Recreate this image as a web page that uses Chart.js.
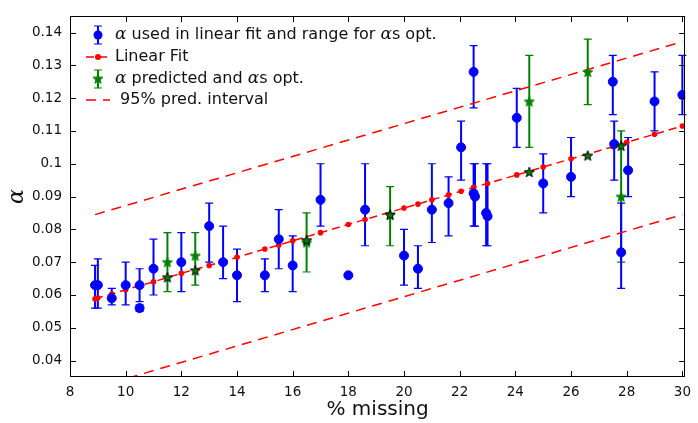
<!DOCTYPE html>
<html>
<head>
<meta charset="utf-8">
<script src="https://cdn.jsdelivr.net/npm/chart.js@4"></script>
<style>
  html, body { margin: 0; padding: 0; background: #fff; }
  #chart { display: block; }
</style>
</head>
<body>
<canvas id="chart" width="698" height="423"></canvas>
<script>
// axis ticks
const xTicks = [8, 10, 12, 14, 16, 18, 20, 22, 24, 26, 28, 30];
const yTicks = [0.04, 0.05, 0.06, 0.07, 0.08, 0.09, 0.1, 0.11, 0.12, 0.13, 0.14];

// alpha used in linear fit (blue), with error bar ends
const blueX  = [8.9, 9.0, 9.5, 10.0, 10.5, 10.5, 11.0, 12.0, 13.0, 13.5, 14.0, 15.0, 15.5, 16.0, 17.0, 18.0, 18.6, 20.0, 20.5, 21.0, 21.6, 22.05, 22.5, 22.5, 22.55, 22.95, 23.0, 24.05, 25.0, 26.0, 27.5, 27.55, 27.8, 28.05, 29.0, 30.0];
const blueY  = [0.063, 0.063, 0.059, 0.063, 0.063, 0.056, 0.068, 0.070, 0.081, 0.070, 0.066, 0.066, 0.077, 0.069, 0.089, 0.066, 0.086, 0.072, 0.068, 0.086, 0.088, 0.105, 0.128, 0.091, 0.090, 0.085, 0.084, 0.114, 0.094, 0.096, 0.125, 0.106, 0.073, 0.098, 0.119, 0.121];
const blueHi = [0.069, 0.071, 0.062, 0.070, 0.068, 0.057, 0.077, 0.079, 0.088, 0.081, 0.074, 0.071, 0.086, 0.078, 0.100, 0.0665, 0.100, 0.080, 0.075, 0.100, 0.096, 0.113, 0.136, 0.100, 0.100, 0.100, 0.100, 0.123, 0.103, 0.108, 0.133, 0.113, 0.088, 0.108, 0.128, 0.133];
const blueLo = [0.056, 0.056, 0.057, 0.057, 0.058, 0.055, 0.060, 0.061, 0.070, 0.065, 0.058, 0.061, 0.068, 0.061, 0.081, 0.0655, 0.075, 0.063, 0.062, 0.076, 0.078, 0.095, 0.117, 0.081, 0.081, 0.075, 0.075, 0.105, 0.085, 0.090, 0.115, 0.095, 0.062, 0.090, 0.110, 0.115];

// linear fit, read at the fitted x positions
const fitX = [8.9, 9.0, 9.5, 10.0, 10.5, 11.0, 12.0, 13.0, 13.5, 14.0, 15.0, 15.5, 16.0, 17.0, 18.0, 18.6, 20.0, 20.5, 21.0, 21.6, 22.05, 22.5, 23.0, 24.05, 25.0, 26.0, 27.5, 28.0, 29.0, 30.0];
const fitY = [0.0588, 0.0591, 0.0603, 0.0616, 0.0628, 0.0640, 0.0666, 0.0690, 0.0702, 0.0715, 0.0740, 0.0752, 0.0765, 0.0790, 0.0815, 0.0830, 0.0865, 0.0877, 0.0890, 0.0905, 0.0916, 0.0928, 0.0940, 0.0966, 0.0990, 0.1015, 0.1052, 0.1065, 0.1090, 0.1115];

// alpha predicted (green, with error bars) and alpha at the fit line
const greenX  = [11.5, 12.5, 16.5, 19.5, 24.5, 26.6, 27.8];
const greenY  = [0.070, 0.072, 0.076, 0.0845, 0.119, 0.128, 0.090];
const greenHi = [0.079, 0.079, 0.085, 0.093, 0.133, 0.138, 0.110];
const greenLo = [0.061, 0.063, 0.067, 0.075, 0.105, 0.118, 0.070];
const optY    = [0.0654, 0.0675, 0.0767, 0.0845, 0.0975, 0.1025, 0.1055];

// 95% prediction interval end points
const piX     = [8.9, 30.0];
const piUpper = [0.0845, 0.1372];
const piLower = [0.0317, 0.0845];

const BLUE = "#0000ff";
const GREEN = "#008000";
const RED = "#ff0000";

function pts(xs, ys) {
  return xs.map((x, i) => ({ x: x, y: ys[i] }));
}

function starImage(fill, edge) {
  const c = document.createElement("canvas");
  c.width = 12; c.height = 12;
  const g = c.getContext("2d");
  g.beginPath();
  for (let i = 0; i < 10; i++) {
    const r = i % 2 === 0 ? 5.3 : 2.2;
    const a = -Math.PI / 2 + i * Math.PI / 5;
    const px = 6 + r * Math.cos(a), py = 6.5 + r * Math.sin(a);
    if (i === 0) g.moveTo(px, py); else g.lineTo(px, py);
  }
  g.closePath();
  g.fillStyle = fill;
  g.fill();
  g.lineWidth = 1;
  g.strokeStyle = edge;
  g.stroke();
  return c;
}
const greenStar = starImage(GREEN, GREEN);
const darkStar = starImage(GREEN, "#000");

// vertical error bars with caps, drawn under the markers
const errorBars = {
  id: "errorBars",
  beforeDatasetsDraw(chart) {
    const ctx = chart.ctx;
    const xs = chart.scales.x, ys = chart.scales.y;
    const sets = [[greenX, greenHi, greenLo, GREEN], [blueX, blueHi, blueLo, BLUE]];
    ctx.save();
    sets.forEach(([bx, hi, lo, col]) => {
      ctx.strokeStyle = col;
      bx.forEach((x, i) => {
        const px = xs.getPixelForValue(x);
        const top = ys.getPixelForValue(hi[i]);
        const bot = ys.getPixelForValue(lo[i]);
        ctx.lineWidth = 2;
        ctx.beginPath();
        ctx.moveTo(px, top); ctx.lineTo(px, bot);
        ctx.stroke();
        ctx.lineWidth = 1.2;
        ctx.beginPath();
        ctx.moveTo(px - 4, top); ctx.lineTo(px + 4, top);
        ctx.moveTo(px - 4, bot); ctx.lineTo(px + 4, bot);
        ctx.stroke();
      });
    });
    ctx.restore();
  }
};

// box around the plot with inward ticks on all four sides, and the legend
const frameAndLegend = {
  id: "frameAndLegend",
  afterDraw(chart) {
    const ctx = chart.ctx;
    const a = chart.chartArea;
    const xs = chart.scales.x, ys = chart.scales.y;
    ctx.save();
    ctx.strokeStyle = "#000";
    ctx.lineWidth = 1;
    ctx.strokeRect(Math.round(a.left) + 0.5, Math.round(a.top) + 0.5,
      Math.round(a.right - a.left) - 1, Math.round(a.bottom - a.top) - 1);
    ctx.beginPath();
    xTicks.forEach(v => {
      const p = Math.round(xs.getPixelForValue(v)) + 0.5;
      ctx.moveTo(p, a.bottom); ctx.lineTo(p, a.bottom - 6);
      ctx.moveTo(p, a.top); ctx.lineTo(p, a.top + 6);
    });
    yTicks.forEach(v => {
      const p = Math.round(ys.getPixelForValue(v)) + 0.5;
      ctx.moveTo(a.left, p); ctx.lineTo(a.left + 6, p);
      ctx.moveTo(a.right, p); ctx.lineTo(a.right - 6, p);
    });
    ctx.stroke();

    // legend
    const iconX = 98, textX = 115;
    const rows = [35, 57, 79, 100];
    const sans = "16px 'DejaVu Sans'";
    const greek = "italic 17px 'DejaVu Serif'";
    function runs(y, parts) {
      let x = textX;
      ctx.textBaseline = "middle";
      ctx.fillStyle = "#111";
      parts.forEach(([t, f]) => {
        ctx.font = f;
        ctx.fillText(t, x, y);
        x += ctx.measureText(t).width;
      });
    }
    function errIcon(y, col) {
      ctx.strokeStyle = col;
      ctx.lineWidth = 2;
      ctx.beginPath(); ctx.moveTo(iconX, y - 9); ctx.lineTo(iconX, y + 9); ctx.stroke();
      ctx.lineWidth = 1.2;
      ctx.beginPath();
      ctx.moveTo(iconX - 4, y - 9); ctx.lineTo(iconX + 4, y - 9);
      ctx.moveTo(iconX - 4, y + 9); ctx.lineTo(iconX + 4, y + 9);
      ctx.stroke();
    }
    function dashIcon(y, dash) {
      ctx.strokeStyle = RED;
      ctx.lineWidth = 1.5;
      ctx.setLineDash(dash);
      ctx.beginPath(); ctx.moveTo(86, y); ctx.lineTo(110, y); ctx.stroke();
      ctx.setLineDash([]);
    }
    errIcon(rows[0], BLUE);
    ctx.fillStyle = BLUE;
    ctx.beginPath(); ctx.arc(iconX, rows[0], 4.5, 0, Math.PI * 2); ctx.fill();
    runs(rows[0], [["α", greek], [" used in linear fit and range for ", sans], ["α", greek], ["s opt.", sans]]);

    dashIcon(rows[1], [8, 5]);
    ctx.fillStyle = RED;
    ctx.beginPath(); ctx.arc(iconX, rows[1], 3, 0, Math.PI * 2); ctx.fill();
    runs(rows[1], [["Linear Fit", sans]]);

    errIcon(rows[2], GREEN);
    ctx.drawImage(greenStar, iconX - 6, rows[2] - 6.5);
    runs(rows[2], [["α", greek], [" predicted and ", sans], ["α", greek], ["s opt.", sans]]);

    dashIcon(rows[3], [10, 7]);
    runs(rows[3], [[" 95% pred. interval", sans]]);
    ctx.restore();
  }
};

new Chart(document.getElementById("chart"), {
  type: "scatter",
  data: {
    datasets: [
      {
        label: "alpha used in linear fit",
        data: pts(blueX, blueY),
        pointRadius: 4.5,
        pointHoverRadius: 4.5,
        backgroundColor: BLUE,
        borderColor: BLUE,
        showLine: false,
        order: 2
      },
      {
        label: "Linear Fit",
        data: pts(fitX, fitY),
        showLine: true,
        borderColor: RED,
        backgroundColor: RED,
        borderWidth: 1.5,
        borderDash: [8, 5],
        pointRadius: 2.8,
        pointBorderWidth: 0,
        order: 3
      },
      {
        label: "alpha predicted",
        data: pts(greenX, greenY),
        pointStyle: greenStar,
        showLine: false,
        order: 1
      },
      {
        label: "alpha s opt.",
        data: pts(greenX, optY),
        pointStyle: darkStar,
        showLine: false,
        order: 0
      },
      {
        label: "95% pred. interval",
        data: pts(piX, piUpper),
        showLine: true,
        borderColor: RED,
        borderWidth: 1.5,
        borderDash: [10, 7],
        pointRadius: 0,
        order: 4
      },
      {
        label: "95% pred. interval (lower)",
        data: pts(piX, piLower),
        showLine: true,
        borderColor: RED,
        borderWidth: 1.5,
        borderDash: [10, 7],
        pointRadius: 0,
        order: 4
      }
    ]
  },
  options: {
    responsive: false,
    animation: false,
    layout: { padding: { top: 9, right: 6, left: 0, bottom: 0 } },
    plugins: {
      legend: { display: false },
      tooltip: { enabled: false }
    },
    scales: {
      x: {
        type: "linear",
        min: 8,
        max: 30.1,
        afterBuildTicks: s => { s.ticks = xTicks.map(v => ({ value: v })); },
        afterFit: s => { s.height = 46; },
        grid: { display: false, drawTicks: false },
        border: { display: false },
        ticks: {
          padding: 7,
          color: "#111",
          font: { family: "'DejaVu Sans'", size: 13.5 },
          callback: v => String(v)
        },
        title: {
          display: true,
          text: "% missing",
          color: "#111",
          font: { family: "'DejaVu Sans'", size: 20 },
          padding: { top: 0, bottom: 1 }
        }
      },
      y: {
        type: "linear",
        min: 0.035,
        max: 0.145,
        afterBuildTicks: s => { s.ticks = yTicks.map(v => ({ value: v })); },
        afterFit: s => { s.width = 70; },
        grid: { display: false, drawTicks: false },
        border: { display: false },
        ticks: {
          padding: 8,
          color: "#111",
          font: { family: "'DejaVu Sans'", size: 13.5 },
          callback: v => String(Math.round(v * 100) / 100)
        },
        title: {
          display: true,
          text: "α",
          color: "#111",
          font: { family: "'DejaVu Serif'", style: "italic", size: 22 },
          padding: { top: 4, bottom: 0 }
        }
      }
    }
  },
  plugins: [errorBars, frameAndLegend]
});
</script>
</body>
</html>
